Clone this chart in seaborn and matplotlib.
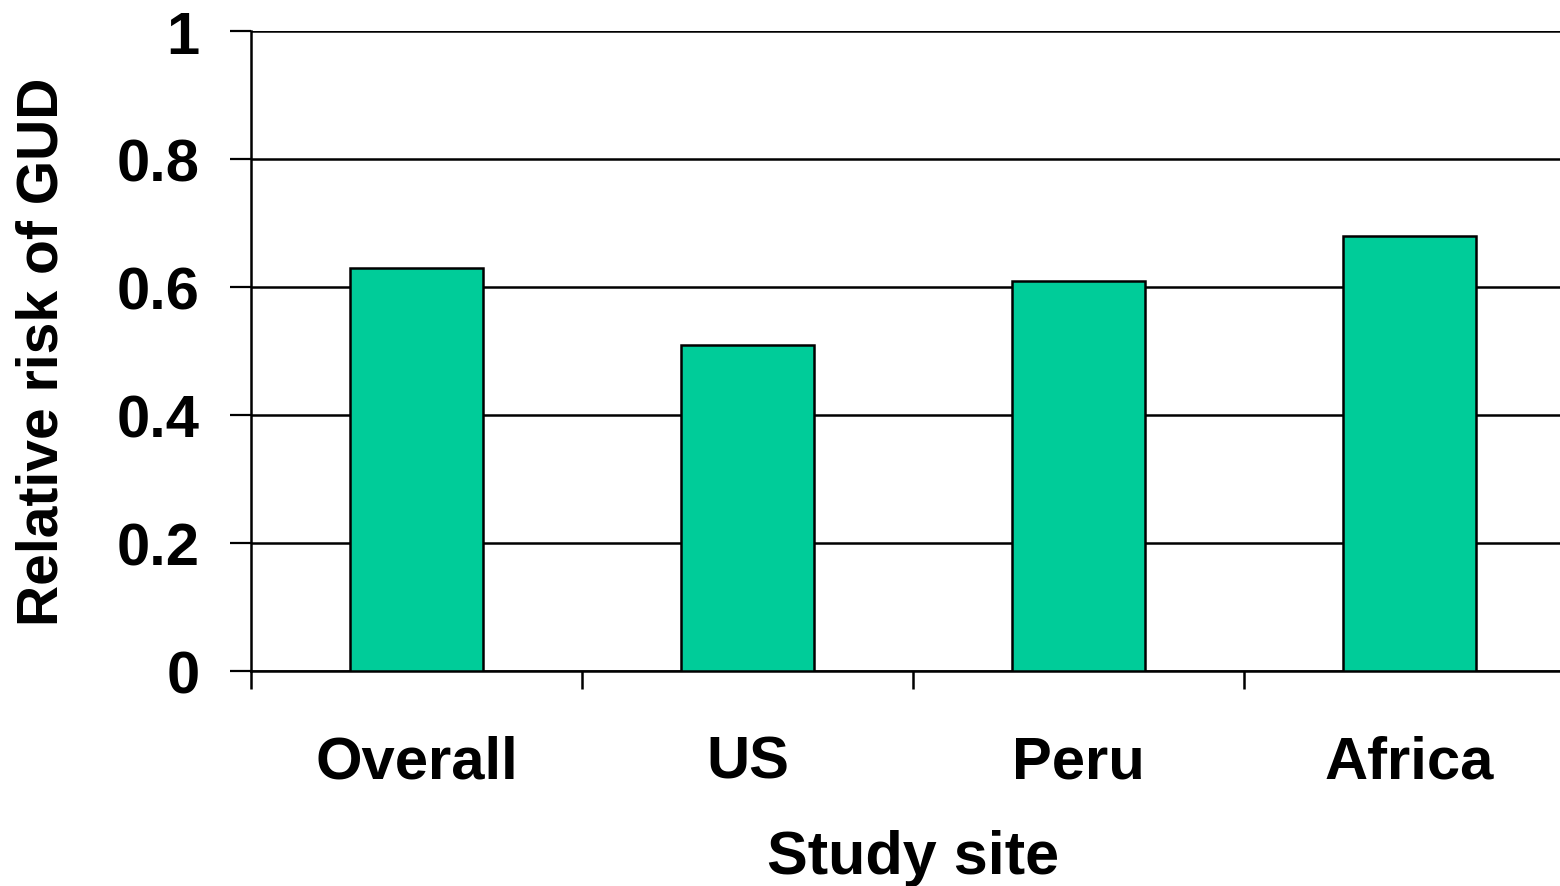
import matplotlib
matplotlib.use("Agg")
import matplotlib.pyplot as plt
import seaborn as sns
import pandas as pd
import numpy as np

sites = ["Overall", "US", "Peru", "Africa"]
relative_risk = [0.63, 0.51, 0.61, 0.68]
y_ticks = [0, 0.2, 0.4, 0.6, 0.8, 1.0]
y_tick_labels = ["0", "0.2", "0.4", "0.6", "0.8", "1"]

sns.set_style("white")
plt.rcParams["font.family"] = ["Liberation Sans", "DejaVu Sans"]
plt.rcParams["font.weight"] = "bold"
plt.rcParams["text.color"] = "black"
plt.rcParams["axes.labelcolor"] = "black"
plt.rcParams["xtick.color"] = "black"
plt.rcParams["ytick.color"] = "black"

df = pd.DataFrame({"site": sites, "rr": relative_risk})

fig = plt.figure(figsize=(15.6, 8.87), dpi=100)
ax = fig.add_axes([251 / 1560, 215 / 887, 1324 / 1560, 640 / 887])

sns.barplot(data=df, x="site", y="rr", color="#00CC99", saturation=1,
            width=0.4, edgecolor="black", linewidth=1.8, ax=ax, zorder=3)

ax.set_xlim(-0.5, len(sites) - 0.5)
ax.set_ylim(0, 1.0)
ax.set_yticks(y_ticks)
ax.set_yticklabels(y_tick_labels, fontsize=43, fontweight="bold", color="black")
ax.yaxis.grid(True, color="black", linewidth=1.8, zorder=0)
ax.set_axisbelow(True)

# category labels centred, tick marks on the boundaries between categories
ax.set_xticks(range(len(sites)))
ax.set_xticklabels(sites, fontsize=43, fontweight="bold", color="black")
ax.set_xticks(np.arange(-0.5, len(sites), 1.0), minor=True)
ax.tick_params(axis="x", which="major", length=0, pad=46)
ax.tick_params(axis="x", which="minor", length=13, width=1.8, color="black",
               direction="out", bottom=True)
ax.tick_params(axis="y", which="major", length=15, width=1.6, color="black",
               direction="out", left=True, pad=22)

for side in ["top", "right"]:
    ax.spines[side].set_visible(False)
for side in ["left", "bottom"]:
    ax.spines[side].set_color("black")
    ax.spines[side].set_linewidth(1.8)

ax.set_xlabel("Study site", fontsize=44, fontweight="bold", color="black", labelpad=28)
ax.set_ylabel("Relative risk of GUD", fontsize=41, fontweight="bold", color="black",
              labelpad=34)

fig.savefig("out.png", dpi=100, facecolor="white")
